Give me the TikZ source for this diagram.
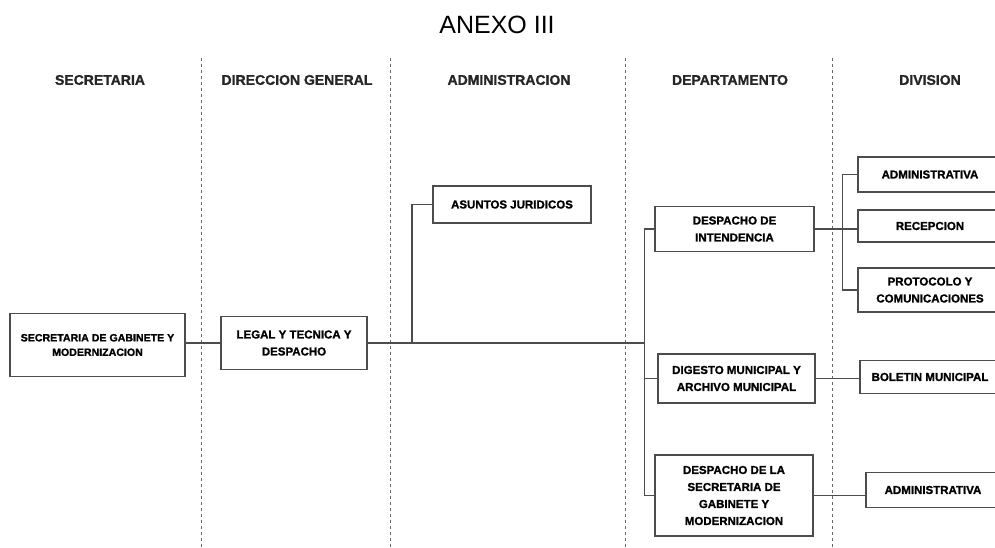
\documentclass[tikz,border=0pt]{standalone}
\usepackage{fontspec}
\setmainfont{Liberation Sans}
\newfontfamily\heavyfont[FakeBold=1.2]{Liberation Sans}

\begin{document}
\begin{tikzpicture}[x=1pt,y=-1pt,
  box/.style={draw=black!70, line width=1.6pt, fill=white, align=center,
    inner sep=2pt, font=\heavyfont\bfseries\fontsize{11.5}{17}\selectfont},
  head/.style={font=\heavyfont\bfseries\fontsize{14}{16}\selectfont, text=black!85},
  link/.style={draw=black!70, line width=1.3pt},
  sep/.style={draw=black!60, dashed, line width=0.9pt}]
  \clip (0,0) rectangle (995,548);
  % Title
  \node (title) at (497,25) {\fontsize{25}{28}\selectfont ANEXO III};
  % Column headers
  \foreach \x/\t/\n in {100/SECRETARIA/hsec, 297/DIRECCION GENERAL/hdir,
      509/ADMINISTRACION/hadm, 730/DEPARTAMENTO/hdep, 930/DIVISION/hdiv} {
    \node[head] (\n) at (\x,80) {\t};
  }
  % Column separators
  \foreach \x in {201,390,625,832} {
    \draw[sep] (\x,58) -- (\x,548);
  }
  % Boxes
  \node[box, minimum width=175, minimum height=63, font=\heavyfont\bfseries\fontsize{10.6}{14.5}\selectfont]
    (sec) at (97.5,345) {SECRETARIA DE GABINETE Y\\MODERNIZACION};
  \node[box, minimum width=146, minimum height=53] (legal) at (294,343)
    {LEGAL Y TECNICA Y\\DESPACHO};
  \node[box, minimum width=158, minimum height=37] (jur) at (512,204.5)
    {ASUNTOS JURIDICOS};
  \node[box, minimum width=159, minimum height=45] (intend) at (734.5,229)
    {DESPACHO DE\\INTENDENCIA};
  \node[box, minimum width=157, minimum height=49] (digesto) at (736.5,378.5)
    {DIGESTO MUNICIPAL Y\\ARCHIVO MUNICIPAL};
  \node[box, minimum width=158, minimum height=81] (despsec) at (734,495.5)
    {DESPACHO DE LA\\SECRETARIA DE\\GABINETE Y\\MODERNIZACION};
  \node[box, minimum width=144, minimum height=35] (adm1) at (930,174.5)
    {ADMINISTRATIVA};
  \node[box, minimum width=144, minimum height=32] (recep) at (930,226)
    {RECEPCION};
  \node[box, minimum width=144, minimum height=44] (proto) at (930,290)
    {PROTOCOLO Y\\COMUNICACIONES};
  \node[box, minimum width=140, minimum height=33] (bolet) at (930,377)
    {BOLETIN MUNICIPAL};
  \node[box, minimum width=134, minimum height=35] (adm2) at (933,490)
    {ADMINISTRATIVA};
  % Connectors
  \coordinate (trunk) at (645,343);
  \coordinate (jbranch) at (412,343);
  \draw[link] (sec.east |- legal.west) -- (legal.west);
  \draw[link] (legal.east) -- (trunk);
  \draw[link] (jbranch) |- (jur.west);
  \draw[link] (intend.west) -- ++(-10,0) |- (despsec.west);
  \draw[link] (digesto.west) -- ++(-13,0);
  \draw[link] (intend.east) -- (intend.east -| recep.west);
  \draw[link] (adm1.west) -- ++(-15,0) |- (proto.west);
  \draw[link] (digesto.east) -- (digesto.east -| bolet.west);
  \draw[link] (despsec.east) -- (despsec.east -| adm2.west);
\end{tikzpicture}
\end{document}
